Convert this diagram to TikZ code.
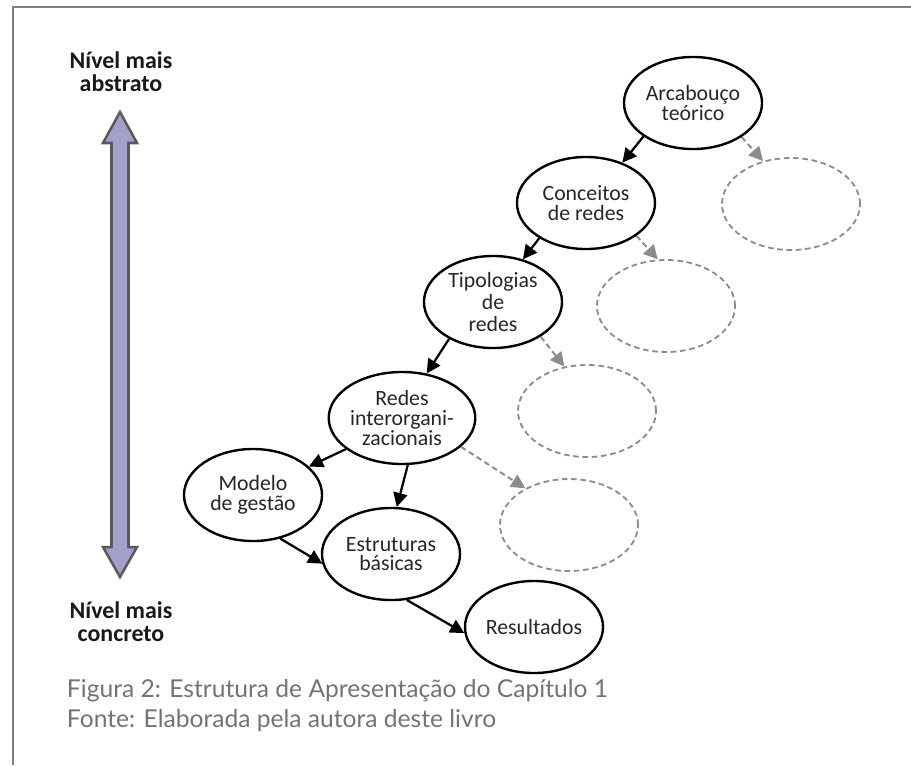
\documentclass[tikz,border=0pt]{standalone}
\usepackage{fontspec}
\setmainfont{Carlito}
\newfontfamily\legendafont{Lato}
\usetikzlibrary{arrows.meta,shapes.geometric}
\definecolor{moldura}{HTML}{7F7F7F}
\definecolor{lilas}{HTML}{A3A0CC}
\definecolor{bordaseta}{HTML}{5A5A5A}
\definecolor{tracejado}{HTML}{8C8C8C}
\definecolor{legenda}{HTML}{737373}
\begin{document}
\begin{tikzpicture}
	[x=0.025cm, y=-0.025cm,
	every node/.style={align=center, text=black!85},
	bloco/.style={draw, ellipse, line width=1.7pt, minimum width=3.45cm, minimum height=2.3cm, inner sep=0pt, font=\fontsize{15.5}{14}\selectfont},
	vazio/.style={draw=tracejado, ellipse, line width=1.3pt, dash pattern=on 4pt off 2.6pt, minimum width=3.45cm, minimum height=2.3cm},
	seta/.style={-{Triangle[length=10pt, width=10pt]}, line width=1.6pt},
	setavazia/.style={seta, draw=tracejado, line width=1.4pt, dash pattern=on 4pt off 2.6pt},
	nivel/.style={font=\fontsize{17}{16.5}\selectfont\bfseries, text=black!90}]
	\useasboundingbox (0,0) rectangle (911,765);
	% moldura
	\draw[moldura, line width=1.6pt] (911,7) -- (13,7) -- (13,765);
	% seta dupla
	\draw[bordaseta, fill=lilas, line width=1.8pt] (120,112) -- (137,143) -- (128.5,143) -- (128.5,547) -- (137,547)
		-- (120,577) -- (103,547) -- (111.5,547) -- (111.5,143) -- (103,143) -- cycle;
	\node[nivel] (abstrato) at (121,72) {Nível mais\\abstrato};
	\node[nivel] (concreto) at (121,622) {Nível mais\\concreto};
	% elipses
	\node[bloco] (arcabouco) at (693,103) {Arcabouço\\teórico};
	\node[bloco] (conceitos) at (586,203) {Conceitos\\de redes};
	\node[bloco, font=\fontsize{15.5}{15.8}\selectfont] (tipologias) at (493,302) {Tipologias\\de\\redes};
	\node[bloco] (redes) at (402,418) {Redes\\interorgani-\\zacionais};
	\node[bloco] (modelo) at (253,495) {Modelo\\de gestão};
	\node[bloco] (estruturas) at (391,554) {Estruturas\\básicas};
	\node[bloco] (resultados) at (534,627) {Resultados};
	\node[vazio] (vazio1) at (791,204) {};
	\node[vazio] (vazio2) at (666,306) {};
	\node[vazio] (vazio3) at (587,411) {};
	\node[vazio] (vazio4) at (569,525) {};
	% ligacoes
	\draw[seta] (arcabouco.214) -- (conceitos.48);
	\draw[seta] (conceitos.217) -- (tipologias.55);
	\draw[seta] (tipologias.220) -- (redes.61);
	\draw[seta] (redes.209) -- (modelo.27);
	\draw[seta] (redes.277) -- (estruturas.83);
	\draw[seta] (modelo.302) -- (estruturas.188);
	\draw[seta] (estruturas.289) -- (resultados.185);
	\draw[setavazia] (arcabouco.325) -- (vazio1.123);
	\draw[setavazia] (conceitos.327) -- (vazio2.100);
	\draw[setavazia] (tipologias.324) -- (vazio3.117);
	\draw[setavazia] (redes.334) -- (vazio4.140);
	% legenda
	\node[anchor=base west, font=\legendafont\fontsize{17.5}{20}\selectfont, text=legenda] (figura) at (62,697) {Figura 2: Estrutura de Apresentação do Capítulo 1};
	\node[anchor=base west, font=\legendafont\fontsize{17.5}{20}\selectfont, text=legenda] (fonte) at (62,727) {Fonte: Elaborada pela autora deste livro};
\end{tikzpicture}
\end{document}
